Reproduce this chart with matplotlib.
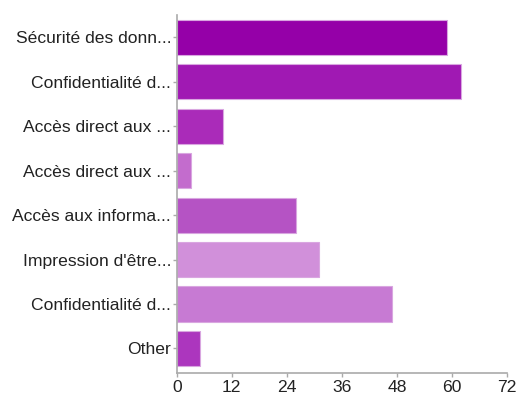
import matplotlib
matplotlib.use("Agg")
import matplotlib.pyplot as plt

labels = [
    "Sécurité des donn...",
    "Confidentialité d...",
    "Accès direct aux ...",
    "Accès direct aux ...",
    "Accès aux informa...",
    "Impression d'être...",
    "Confidentialité d...",
    "Other",
]
counts = [59, 62, 10, 3, 26, 31, 47, 5]
colors = ["#9500a8", "#a019b3", "#aa2bb9", "#c36ccd", "#b553c4",
          "#d190da", "#c77ad3", "#ac36be"]
xticks = [0, 12, 24, 36, 48, 60, 72]

plt.rcParams['font.family'] = ['Liberation Sans', 'DejaVu Sans']

fig = plt.figure(figsize=(5.2, 3.95), dpi=100)
ax = fig.add_axes([0.340, 0.056, 0.635, 0.906])

ypos = list(range(len(labels)))
ax.barh(ypos, counts, height=0.79, color=colors, edgecolor="#d9a6e0", linewidth=0.8)

ax.set_yticks(ypos)
ax.set_yticklabels(labels, fontsize=12.6, color="#222222")
ax.set_ylim(7.55, -0.5)
ax.set_xlim(0, 72)
ax.set_xticks(xticks)
ax.set_xticklabels([str(t) for t in xticks], fontsize=12.6, color="#222222")

for s in ["top", "right"]:
    ax.spines[s].set_visible(False)
for s in ["left", "bottom"]:
    ax.spines[s].set_color("#aaaaaa")
    ax.spines[s].set_linewidth(1.2)
ax.tick_params(axis="both", length=3, color="#aaaaaa", width=1, pad=1)
ax.tick_params(axis="x", pad=2)

fig.savefig("out.png", dpi=100)
